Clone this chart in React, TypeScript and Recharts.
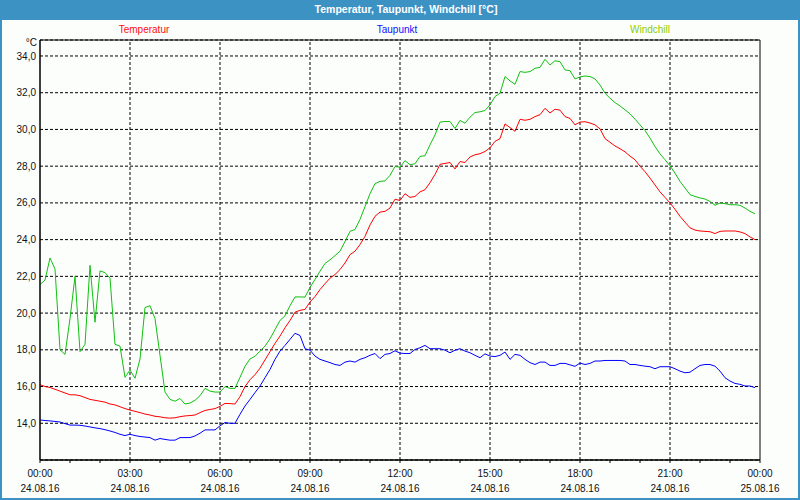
import { LineChart, Line, XAxis, YAxis, CartesianGrid, ReferenceLine, ReferenceArea } from "recharts";

// one reading every 10 minutes, 24.08.16 00:00 .. 23:50
const STEP_MIN = 10;

const TEMPERATUR = [
  16.1, 16.0, 15.95, 15.85, 15.75, 15.65, 15.55, 15.55, 15.5, 15.4, 15.3, 15.25,
  15.2, 15.15, 15.05, 15.0, 14.9, 14.8, 14.72, 14.65, 14.58, 14.5, 14.45, 14.38,
  14.35, 14.3, 14.28, 14.3, 14.36, 14.4, 14.42, 14.45, 14.58, 14.7, 14.75, 14.8,
  14.92, 15.08, 15.07, 15.05, 15.45, 16.0, 16.37, 16.65, 17.0, 17.45, 17.9, 18.35,
  18.75, 19.2, 19.6, 20.05, 20.15, 20.2, 20.6, 20.9, 21.28, 21.6, 21.9, 22.1,
  22.37, 22.73, 23.18, 23.37, 23.73, 24.18, 24.8, 25.27, 25.5, 25.54, 25.72, 26.2,
  26.13, 26.5, 26.3, 26.35, 26.6, 26.72, 27.1, 27.55, 28.1, 28.15, 28.2, 27.85,
  28.25, 28.2, 28.5, 28.62, 28.68, 28.8, 29.0, 29.35, 29.5, 30.3, 30.1, 29.9,
  30.55, 30.5, 30.55, 30.7, 30.8, 31.15, 30.9, 31.1, 31.05, 30.7, 30.6, 30.25,
  30.4, 30.42, 30.35, 30.25, 30.03, 29.5, 29.3, 29.1, 28.95, 28.78, 28.55, 28.35,
  28.0, 27.7, 27.35, 26.98, 26.6, 26.3, 26.0, 25.65, 25.27, 24.95, 24.64, 24.52,
  24.47, 24.45, 24.43, 24.33, 24.45, 24.47, 24.47, 24.47, 24.42, 24.33, 24.15, 24.0,
];

const TAUPUNKT = [
  14.18, 14.15, 14.13, 14.1, 14.07, 13.98, 13.9, 13.9, 13.89, 13.85, 13.8, 13.75,
  13.71, 13.65, 13.58, 13.5, 13.4, 13.33, 13.4, 13.33, 13.28, 13.25, 13.22, 13.08,
  13.17, 13.12, 13.08, 13.08, 13.22, 13.22, 13.22, 13.31, 13.46, 13.64, 13.64, 13.64,
  13.86, 14.04, 14.0, 14.0, 14.49, 14.94, 15.3, 15.67, 16.03, 16.48, 16.93, 17.48,
  17.93, 18.24, 18.57, 18.9, 18.78, 18.06, 17.98, 17.66, 17.48, 17.39, 17.3, 17.2,
  17.15, 17.33, 17.39, 17.33, 17.48, 17.57, 17.7, 17.8, 17.52, 17.75, 17.8, 17.95,
  17.82, 17.8, 17.8, 18.02, 18.11, 18.24, 18.06, 18.06, 18.06, 17.98, 17.84, 17.98,
  18.06, 17.93, 17.84, 17.7, 17.57, 17.78, 17.66, 17.63, 17.7, 17.88, 17.48, 17.75,
  17.7, 17.48, 17.3, 17.2, 17.33, 17.33, 17.15, 17.15, 17.26, 17.26, 17.18, 17.1,
  17.28, 17.2, 17.26, 17.39, 17.39, 17.42, 17.42, 17.42, 17.42, 17.39, 17.2, 17.2,
  17.15, 17.11, 17.08, 16.97, 17.08, 17.08, 17.08, 16.97, 16.84, 16.75, 16.78, 16.97,
  17.15, 17.2, 17.2, 17.11, 16.84, 16.48, 16.3, 16.17, 16.12, 16.03, 16.03, 15.94,
];

const WINDCHILL = [
  21.55, 21.8, 23.0, 22.4, 18.0, 17.75, 19.7, 22.0, 17.9, 18.3, 22.6, 19.5,
  22.3, 22.2, 21.9, 18.3, 18.2, 16.5, 16.9, 16.45, 17.5, 20.3, 20.4, 19.7,
  17.7, 15.7, 15.3, 15.2, 15.35, 15.05, 15.1, 15.25, 15.5, 15.9, 15.75, 15.7,
  15.7, 16.0, 15.9, 15.9, 16.5, 17.1, 17.5, 17.65, 17.93, 18.2, 18.6, 19.1,
  19.6, 19.85, 20.4, 20.88, 20.88, 20.87, 21.4, 21.83, 22.28, 22.7, 22.9, 23.13,
  23.37, 23.9, 24.45, 24.55, 25.1, 25.8, 26.5, 27.05, 27.17, 27.2, 27.5, 27.98,
  27.95, 28.3, 28.08, 28.13, 28.53, 28.57, 29.16, 29.7, 30.4, 30.43, 30.43, 30.05,
  30.49, 30.34, 30.67, 30.92, 30.96, 31.03, 31.34, 31.79, 31.97, 32.88, 32.64, 32.46,
  33.15, 33.11, 33.15, 33.33, 33.38, 33.82, 33.51, 33.74, 33.69, 33.24, 33.2, 32.75,
  32.86, 32.91, 32.88, 32.75, 32.42, 31.97, 31.7, 31.46, 31.28, 31.07, 30.85, 30.56,
  30.25, 29.94, 29.53, 29.07, 28.67, 28.35, 28.02, 27.62, 27.17, 26.81, 26.45, 26.35,
  26.27, 26.21, 26.08, 25.87, 25.99, 25.96, 25.9, 25.9, 25.87, 25.72, 25.54, 25.41,
];

const Y_TICKS = [14, 16, 18, 20, 22, 24, 26, 28, 30, 32, 34];
const Y_DOMAIN = [12, 34.87];
const HOUR_TICKS = Array.from({ length: 25 }, (_, i) => i * 60);
const GRID_TIMES = [180, 360, 540, 720, 900, 1080, 1260];
const TIME_LABELS = ["00:00", "03:00", "06:00", "09:00", "12:00", "15:00", "18:00", "21:00", "00:00"];
const DATE_LABELS = ["24.08.16", "24.08.16", "24.08.16", "24.08.16", "24.08.16", "24.08.16", "24.08.16", "24.08.16", "25.08.16"];

const FONT = "'Liberation Sans', Arial, sans-serif";
const BLUE_FRAME = "#3d92c4";

const data = TEMPERATUR.map((v, i) => ({
  t: i * STEP_MIN,
  temp: v,
  dew: TAUPUNKT[i],
  wc: WINDCHILL[i],
}));

function TimeTick(props: any) {
  const { x, y, payload } = props;
  const t = payload.value as number;
  if (t % 180 !== 0) return <g />;
  const k = t / 180;
  return (
    <g>
      <text x={x} y={y + 14} textAnchor="middle" fontSize={10} fontFamily={FONT} fill="#111">
        {TIME_LABELS[k]}
      </text>
      <text x={x} y={y + 29} textAnchor="middle" fontSize={10} fontFamily={FONT} fill="#111">
        {DATE_LABELS[k]}
      </text>
    </g>
  );
}

const legendStyle = (color: string, center: number) => ({
  position: "absolute" as const,
  left: center,
  top: 24,
  transform: "translateX(-50%)",
  color,
  fontSize: 10,
  fontFamily: FONT,
  whiteSpace: "nowrap" as const,
});

export default function App() {
  return (
    <div
      style={{
        position: "fixed",
        left: 0,
        top: 0,
        width: 800,
        height: 500,
        background: "#fcfefc",
        boxSizing: "border-box",
        borderLeft: `2px solid ${BLUE_FRAME}`,
        borderRight: `2px solid ${BLUE_FRAME}`,
        borderBottom: `2px solid ${BLUE_FRAME}`,
        overflow: "hidden",
      }}
    >
      <div style={{ position: "absolute", left: -2, top: 0, width: 800, height: 20, background: BLUE_FRAME }}>
        <span
          style={{
            position: "absolute",
            left: 406,
            top: 3,
            transform: "translateX(-50%)",
            color: "#fff",
            fontWeight: "bold",
            fontSize: 10.5,
            fontFamily: FONT,
            whiteSpace: "nowrap",
          }}
        >
          Temperatur, Taupunkt, Windchill [°C]
        </span>
      </div>

      <span style={legendStyle("#ff1010", 142)}>Temperatur</span>
      <span style={legendStyle("#1010ff", 395)}>Taupunkt</span>
      <span style={legendStyle("#8ccc00", 648)}>Windchill</span>
      <span
        style={{
          position: "absolute",
          left: -2,
          width: 37,
          top: 37,
          textAlign: "right",
          fontSize: 10,
          fontFamily: FONT,
          color: "#111",
        }}
      >
        °C
      </span>

      <div style={{ position: "absolute", left: -2, top: 0 }}>
        <LineChart width={800} height={500} data={data} margin={{ top: 40, right: 40, bottom: 0, left: 0 }}>
          <CartesianGrid vertical={false} stroke="#000" strokeDasharray="3 2" />
          {GRID_TIMES.map((t) => (
            <ReferenceLine key={t} x={t} stroke="#000" strokeDasharray="3 2" />
          ))}
          <XAxis
            dataKey="t"
            type="number"
            domain={[0, 1440]}
            ticks={HOUR_TICKS}
            interval={0}
            height={40}
            tickSize={3}
            tickMargin={0}
            axisLine={{ stroke: "#000" }}
            tickLine={{ stroke: "#000" }}
            tick={<TimeTick />}
          />
          <YAxis
            type="number"
            domain={Y_DOMAIN}
            ticks={Y_TICKS}
            interval={0}
            width={40}
            tickSize={0}
            tickMargin={4}
            allowDataOverflow
            axisLine={{ stroke: "#000" }}
            tickLine={false}
            tickFormatter={(v: number) => v.toFixed(1).replace(".", ",")}
            tick={{ fill: "#111", fontSize: 10, fontFamily: FONT }}
          />
          <ReferenceArea
            x1={0}
            x2={1440}
            y1={Y_DOMAIN[0]}
            y2={Y_DOMAIN[1]}
            fill="none"
            fillOpacity={0}
            stroke="#000"
            strokeWidth={1}
            ifOverflow="extendDomain"
          />
          <Line dataKey="temp" type="linear" stroke="#ff0000" strokeWidth={1} dot={false} isAnimationActive={false} />
          <Line dataKey="dew" type="linear" stroke="#0000ff" strokeWidth={1} dot={false} isAnimationActive={false} />
          <Line dataKey="wc" type="linear" stroke="#10c010" strokeWidth={1} dot={false} isAnimationActive={false} />
        </LineChart>
      </div>
    </div>
  );
}
